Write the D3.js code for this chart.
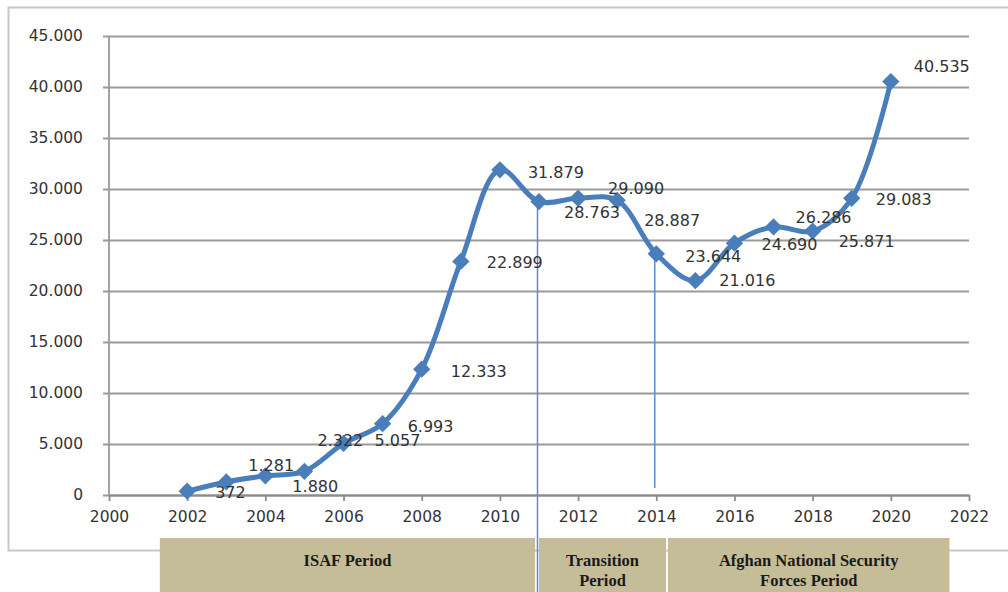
<!DOCTYPE html>
<html>
<head>
<meta charset="utf-8">
<script src="https://cdn.jsdelivr.net/npm/d3@7"></script>
<style>
	body { margin: 0; background: #fff; }
	svg { display: block; }
	.tick text { font-family: 'DejaVu Sans', sans-serif; font-size: 15.5px; fill: #333; }
	.value-label { font-family: 'DejaVu Sans', sans-serif; font-size: 16px; fill: #333; }
	.period-label { font-family: 'Liberation Serif', serif; font-size: 16.5px; font-weight: bold; fill: #1a1a1a; }
</style>
</head>
<body>
<div id="chart"></div>
<script>
let width = 1008
let height = 592

// data
let years = [2002,2003,2004,2005,2006,2007,2008,2009,2010,2011,2012,2013,2014,2015,2016,2017,2018,2019,2020]
let values = [372,1281,1880,2322,5057,6993,12333,22899,31879,28763,29090,28887,23644,21016,24690,26286,25871,29083,40535]
let yTicks = [0,5000,10000,15000,20000,25000,30000,35000,40000,45000]
let xTicks = [2000,2002,2004,2006,2008,2010,2012,2014,2016,2018,2020,2022]
let periodNames = [['ISAF Period'],['Transition','Period'],['Afghan National Security','Forces Period']]
let periodStart = [2001.3,2011.0,2014.3]
let periodEnd = [2010.9,2014.25,2021.5]
let markerYears = [2011,2014]

// label nudges (the source chart's labels wander around their points)
let labelNudge = [[28,1],[22,-17],[27,10],[13,-31],[31,-3],[25,3],[29,2],[26,1],[28,2],[25,11],[30,-10],[27,20],[29,2],[24,0],[27,1],[22,-10],[26,10],[24,1],[23,-15]]

let plot = {'left': 109, 'right': 969, 'top': 36, 'bottom': 495}

let locale = d3.formatLocale({'decimal': ',', 'thousands': '.', 'grouping': [3], 'currency': ['','']})
let fmt = locale.format(',d')

let xScale = d3.scaleLinear()
	.domain([2000,2022])
	.range([plot.left,plot.right])

let yScale = d3.scaleLinear()
	.domain([0,45000])
	.range([plot.bottom,plot.top])

let svg = d3.select('#chart').append('svg')
	.attr('width',width)
	.attr('height',height)

// outer frame
svg.append('rect')
	.attr('x',8.5)
	.attr('y',7.5)
	.attr('width',1010)
	.attr('height',543)
	.attr('fill','none')
	.attr('stroke','#c8c8c8')
	.attr('stroke-width',2)

let yAxis = d3.axisLeft(yScale)
	.tickValues(yTicks)
	.tickFormat(fmt)
	.tickSize(-(plot.right-plot.left))
	.tickSizeOuter(0)
	.tickPadding(26)

let yg = svg.append('g')
	.attr('transform',`translate(${plot.left},0)`)
	.call(yAxis)
yg.select('.domain').remove()
yg.selectAll('.tick line')
	.attr('x1',-6)
	.attr('stroke','#9a9a9a')
	.attr('stroke-width',1.8)

svg.append('line')
	.attr('x1',plot.left).attr('x2',plot.left)
	.attr('y1',plot.top).attr('y2',plot.bottom)
	.attr('stroke','#9a9a9a')
	.attr('stroke-width',1.8)

let xAxis = d3.axisBottom(xScale)
	.tickValues(xTicks)
	.tickFormat(d3.format('d'))
	.tickSize(6)
	.tickSizeOuter(0)
	.tickPadding(10)

let xg = svg.append('g')
	.attr('transform',`translate(0,${plot.bottom})`)
	.call(xAxis)
xg.select('.domain')
	.attr('stroke','#8c8c8c')
	.attr('stroke-width',1.8)
xg.selectAll('.tick line')
	.attr('stroke','#8c8c8c')
	.attr('stroke-width',1.8)

// period boxes
let periods = svg.append('g')
periodNames.forEach((lines,i) => {
	let x0 = xScale(periodStart[i])
	let x1 = xScale(periodEnd[i])
	periods.append('rect')
		.attr('x',x0)
		.attr('y',538)
		.attr('width',x1-x0)
		.attr('height',height-538)
		.attr('fill','#c5bd98')
	let t = periods.append('text')
		.attr('class','period-label')
		.attr('text-anchor','middle')
		.attr('x',(x0+x1)/2)
		.attr('y',566)
	lines.forEach((l,j) => {
		t.append('tspan')
			.attr('x',(x0+x1)/2)
			.attr('dy',j == 0 ? 0 : 20)
			.text(l)
	})
})

// vertical period markers
let markerEnds = [height, plot.bottom-7]
markerYears.forEach((yr,i) => {
	let v = values[years.indexOf(yr)]
	svg.append('line')
		.attr('x1',xScale(yr)-1.5).attr('x2',xScale(yr)-1.5)
		.attr('y1',yScale(v)+4)
		.attr('y2',markerEnds[i])
		.attr('stroke','#5b8bd0')
		.attr('stroke-width',1.5)
})

let data = years.map((y,i) => ({'year': y, 'value': values[i]}))

let line = d3.line()
	.x((d) => xScale(d.year))
	.y((d) => yScale(d.value))
	.curve(d3.curveCatmullRom.alpha(0.5))

svg.append('path')
	.datum(data)
	.attr('d',line)
	.attr('fill','none')
	.attr('stroke','#4a7ebb')
	.attr('stroke-width',5)
	.attr('stroke-linejoin','round')

svg.append('g').selectAll('path')
	.data(data)
	.enter().append('path')
	.attr('d',d3.symbol(d3.symbolSquare,150)())
	.attr('transform',(d) => `translate(${xScale(d.year)},${yScale(d.value)}) rotate(45)`)
	.attr('fill','#4a7ebb')

svg.append('g').selectAll('text')
	.data(data)
	.enter().append('text')
	.attr('class','value-label')
	.attr('x',(d,i) => xScale(d.year) + labelNudge[i][0])
	.attr('y',(d,i) => yScale(d.value) + labelNudge[i][1])
	.attr('dy','0.36em')
	.text((d) => fmt(d.value))
</script>
</body>
</html>
